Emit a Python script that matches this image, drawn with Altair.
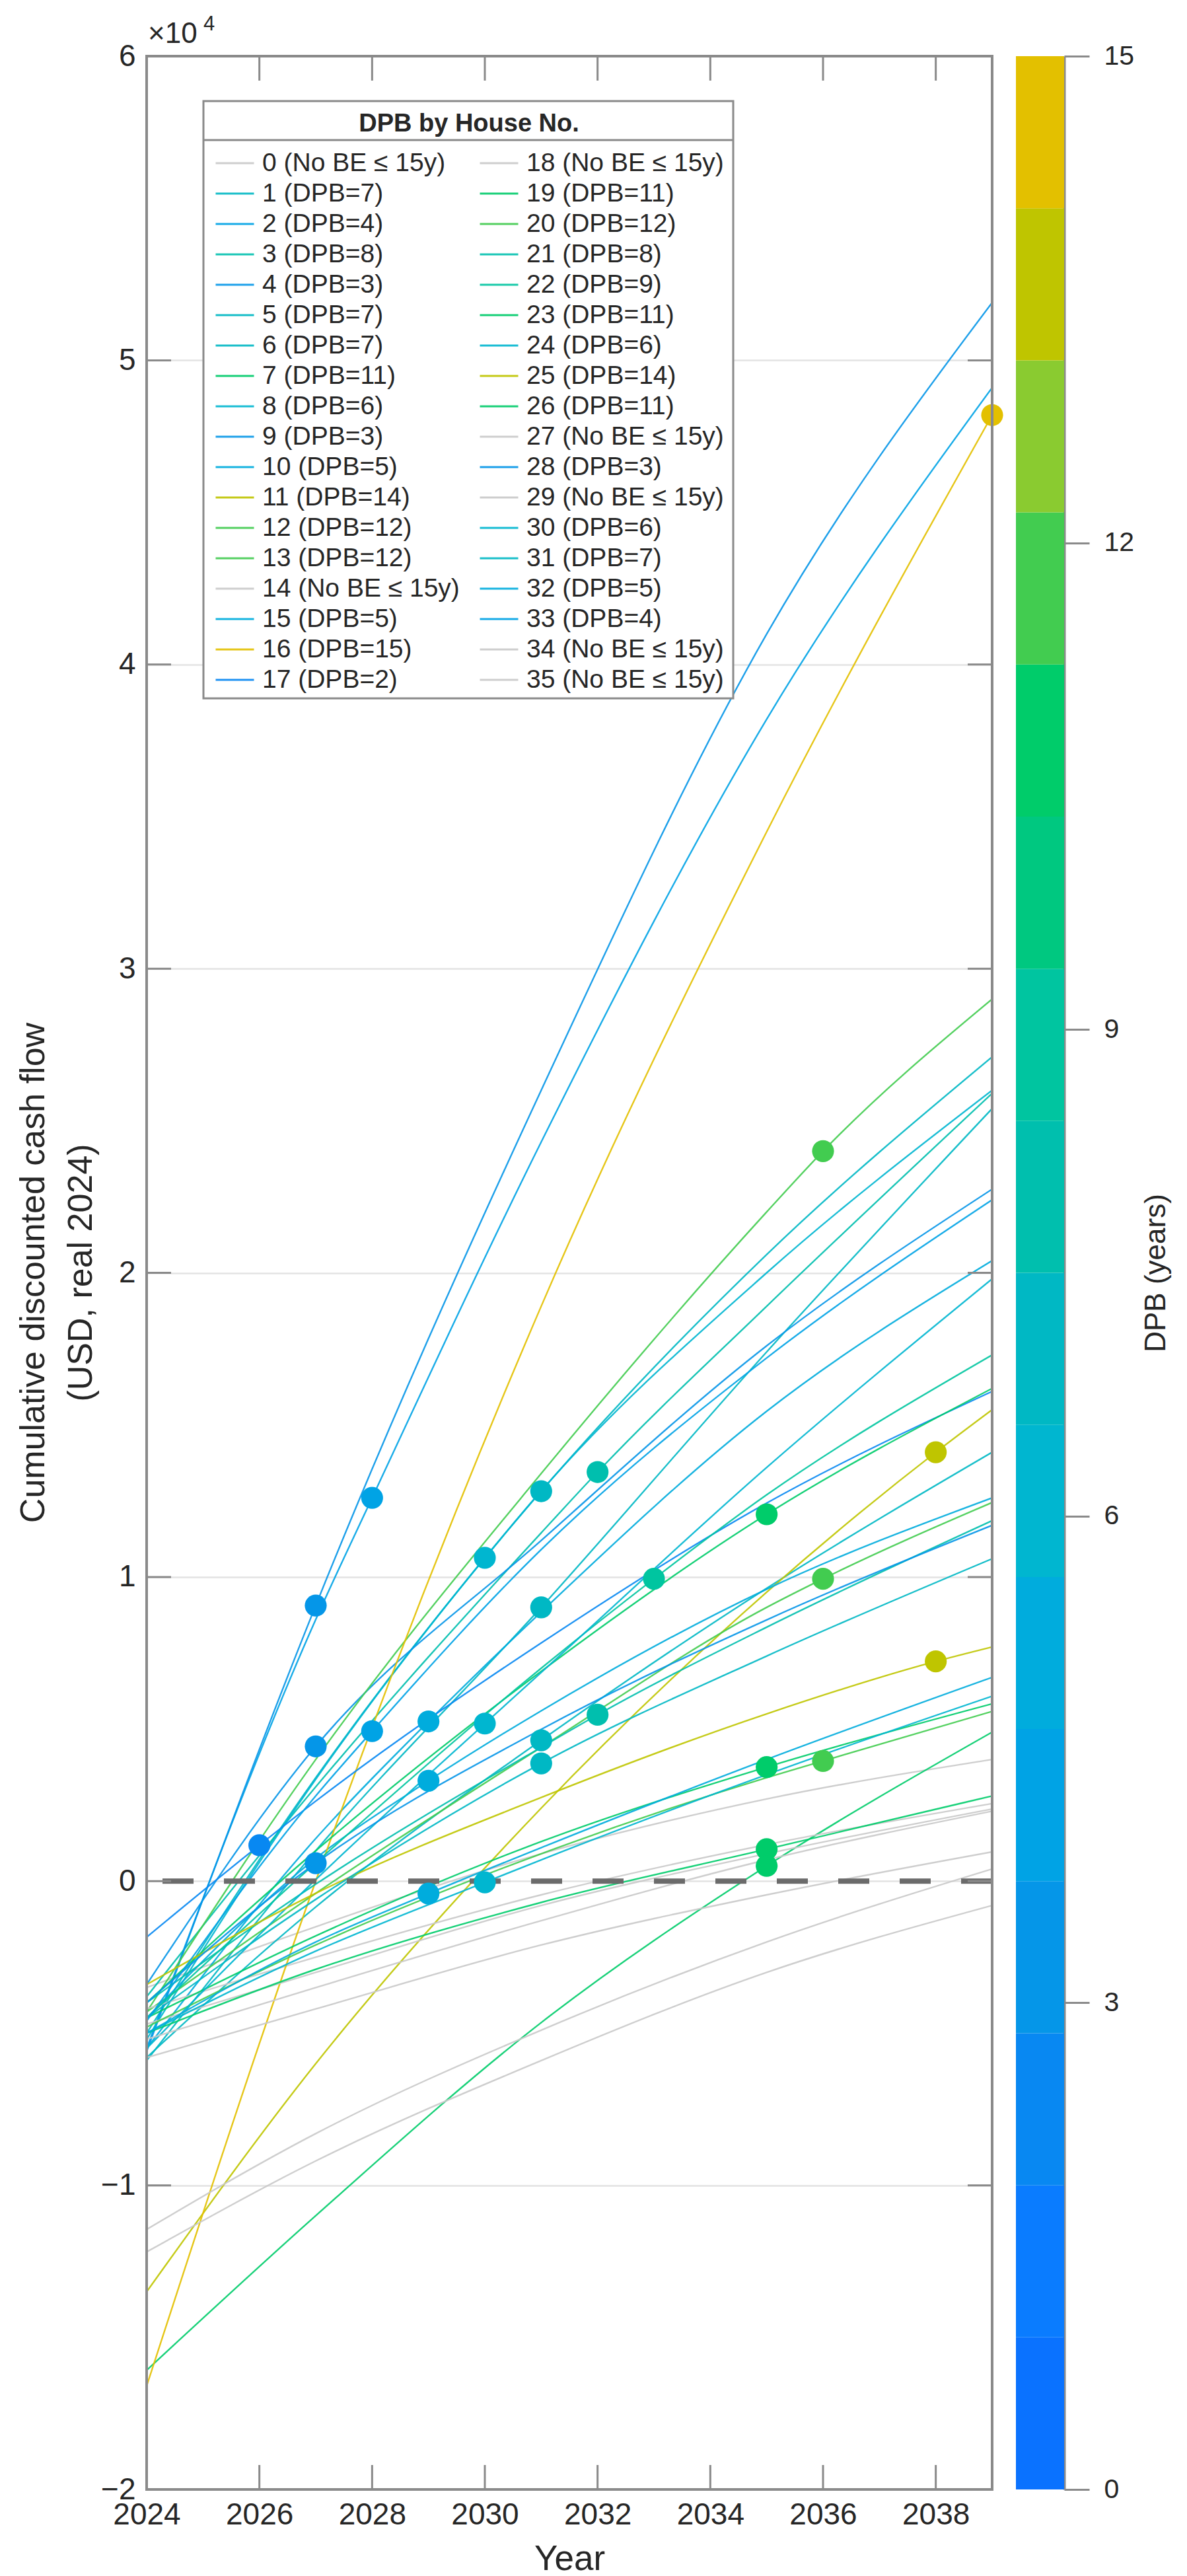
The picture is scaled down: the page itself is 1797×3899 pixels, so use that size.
import altair as alt
import pandas as pd

# ---------------- data ----------------
HOUSES = list(range(36))
DPB = [None, 7, 4, 8, 3, 7, 7, 11, 6, 3, 5, 14, 12, 12, None, 5, 15, 2,
       None, 11, 12, 8, 9, 11, 6, 14, 11, None, 3, None, 6, 7, 5, 4, None, None]

YEARS = [2024, 2027, 2031, 2035, 2039]
V2024 = [-3500, -5000, -5500, -3800, -5600, -5900, -5800, -16080, -5200, -3400,
         -5500, -13500, -4300, -4300, -4200, -4500, -16600, -1840, -4700, -4000,
         -4800, -4000, -4500, -4500, -5500, -3400, -5000, -5800, -4000, -11450,
         -5000, -4500, -5000, -4600, -12190, -5200]
V2027 = [-1500, 3400, 8600, 3100, 9060, 1000, -850, -11000, 3350, 4430,
         1400, -6000, 4000, -400, -2500, 750, 0, 2630, -3000, 1000,
         -2100, -100, 600, -1800, 50, -400, -2900, -4200, 590, -8300,
         -2300, -600, -2000, 2800, -9200, -3500]
V2031 = [900, 12820, 24300, 11450, 26000, 9000, 4630, -4650, 12830, 11200,
         8850, 2400, 13400, 4400, -450, 5600, 18900, 7830, -800, 6900,
         900, 4400, 7000, 1300, 6860, 2750, -700, -2100, 4990, -4900,
         700, 3870, 1100, 10900, -5900, -1300]
V2035 = [2700, 20600, 38200, 18900, 41000, 17400, 9630, 500, 20000, 17600,
         15450, 9500, 22000, 9000, 1200, 9600, 34500, 12430, 900, 12060,
         3400, 8350, 12700, 3750, 13600, 5500, 1050, -450, 8590, -2000,
         3500, 7400, 4000, 17200, -3000, 700]
V2039 = [4000, 27100, 49100, 25900, 51900, 25400, 14100, 4900, 26000, 22750,
         20400, 15500, 29000, 12450, 2550, 12600, 48200, 16100, 2370, 16200,
         5580, 11850, 17300, 5830, 19800, 7700, 2800, 960, 11700, 400,
         6080, 10600, 6700, 22400, -800, 2300]
# value of each house's curve at its payback year (dot), None = no break-even
DOT_VALUE = [None, 12820, 12600, 13450, 9060, 9000, 4630, 500, 10630, 4430,
             5250, 14100, 24000, 9940, None, 3300, 48200, 1180, None, 12060,
             3950, 5470, 9940, 3750, 5180, 7225, 1050, None, 590, None,
             -40, 3870, -410, 4930, None, None]

# 16-step colormap of the colorbar (bottom -> top), limits 0..15
BAND_COLORS = ["#0a72ff", "#0a7cff", "#0888f2", "#0596e8", "#00a3e5", "#00acdd",
               "#00b6d0", "#00b8c4", "#00bfae", "#00c5a0", "#00c880", "#00cc6a",
               "#42cc50", "#8acb30", "#bfc500", "#e3c000"]
NO_BE_COLOR = "#c9c9c9"
CB_MIN, CB_MAX = 0, 15

X_TICKS = [2024, 2026, 2028, 2030, 2032, 2034, 2036, 2038]
Y_TICKS = [-20000, -10000, 0, 10000, 20000, 30000, 40000, 50000, 60000]
CB_TICKS = [0, 3, 6, 9, 12, 15]
Y_TITLE = ["Cumulative discounted cash flow", "(USD, real 2024)"]

# ---------------- helpers ----------------
FONT = "Liberation Sans"
W, H = 1280, 3683
CB_W = 73
TICK_LEN = 37
FRAME = "#8a8a8a"
TXT = "#262626"


def dpb_color(d):
    if d is None:
        return NO_BE_COLOR
    n = len(BAND_COLORS)
    k = int((d - CB_MIN) / (CB_MAX - CB_MIN) * n)
    return BAND_COLORS[min(max(k, 0), n - 1)]


def label(h):
    d = DPB[h]
    return f"{h} (No BE \u2264 15y)" if d is None else f"{h} (DPB={d})"


labels = [label(h) for h in HOUSES]
colors = [dpb_color(DPB[h]) for h in HOUSES]

rows = []
series = [V2024, V2027, V2031, V2035, V2039]
for h in HOUSES:
    pts = {y: arr[h] for y, arr in zip(YEARS, series)}
    if DPB[h] is not None:
        pts.setdefault(2024 + DPB[h], DOT_VALUE[h])
    for y in sorted(pts):
        rows.append({"house": labels[h], "year": y, "value": pts[y]})
lines_df = pd.DataFrame(rows)

dots_df = pd.DataFrame([
    {"house": labels[h], "year": 2024 + DPB[h], "value": DOT_VALUE[h], "c": colors[h]}
    for h in HOUSES if DPB[h] is not None
])

xscale = alt.Scale(domain=[2024, 2039], nice=False, zero=False)
yscale = alt.Scale(domain=[-20000, 60000], nice=False, zero=False)

x_axis = alt.Axis(values=X_TICKS, format="d", grid=False, domain=False, ticks=False,
                  labelFlush=False, labelOverlap=False,
                  labelFontSize=46, labelPadding=16, labelColor=TXT,
                  title="Year", titleFontSize=53, titleFontWeight="normal",
                  titleColor=TXT, titlePadding=18)
y_axis = alt.Axis(values=Y_TICKS, labelExpr="format(datum.value / 10000, 'd')",
                  grid=True, gridColor="#e3e3e3", gridWidth=2.5, domain=False, ticks=False,
                  labelFlush=False, labelOverlap=False,
                  labelFontSize=46, labelPadding=17, labelColor=TXT, title=None)

legend = alt.Legend(title="DPB by House No.", orient="none", legendX=103, legendY=84,
                    columns=2, symbolLimit=100, symbolType="stroke", symbolSize=3364,
                    symbolStrokeWidth=3,
                    labelFontSize=39, labelColor=TXT, labelLimit=600, labelOffset=11,
                    titleFontSize=38, titleFontWeight="bold", titleColor=TXT,
                    titleAnchor="middle", titleLimit=900, titlePadding=20,
                    columnPadding=29, rowPadding=6, clipHeight=40, padding=0)

lines = alt.Chart(lines_df).mark_line(interpolate="monotone", strokeWidth=2.4,
                                      opacity=0.9, clip=True).encode(
    x=alt.X("year:Q", scale=xscale, axis=x_axis),
    y=alt.Y("value:Q", scale=yscale, axis=y_axis),
    color=alt.Color("house:N", scale=alt.Scale(domain=labels, range=colors),
                    sort=labels, legend=legend),
    detail="house:N",
)

zero_line = alt.Chart(alt.Data(values=[{"z": 0}])).mark_rule(
    color="#6b6b6b", strokeWidth=8, strokeDash=[47, 46]).encode(
    y=alt.Y("z:Q", scale=yscale))

dots = alt.Chart(dots_df).mark_circle(size=1100, opacity=1).encode(
    x=alt.X("year:Q", scale=xscale),
    y=alt.Y("value:Q", scale=yscale),
    color=alt.Color("c:N", scale=None),
)

xt = pd.DataFrame({"t": X_TICKS[1:]})
yt = pd.DataFrame({"t": Y_TICKS[1:-1]})
tick_style = dict(color=FRAME, strokeWidth=3)
ticks_bottom = alt.Chart(xt).mark_rule(**tick_style).encode(
    x=alt.X("t:Q", scale=xscale), y=alt.value(H), y2=alt.value(H - TICK_LEN))
ticks_top = alt.Chart(xt).mark_rule(**tick_style).encode(
    x=alt.X("t:Q", scale=xscale), y=alt.value(0), y2=alt.value(TICK_LEN))
ticks_left = alt.Chart(yt).mark_rule(**tick_style).encode(
    y=alt.Y("t:Q", scale=yscale), x=alt.value(0), x2=alt.value(TICK_LEN))
ticks_right = alt.Chart(yt).mark_rule(**tick_style).encode(
    y=alt.Y("t:Q", scale=yscale), x=alt.value(W - TICK_LEN), x2=alt.value(W))

one = alt.Data(values=[{"k": 1}])
frame = alt.Chart(one).mark_rect(fill="transparent", stroke=FRAME, strokeWidth=4).encode(
    x=alt.value(0), x2=alt.value(W), y=alt.value(0), y2=alt.value(H))
legend_box = alt.Chart(one).mark_rect(fill="white", stroke=FRAME, strokeWidth=3).encode(
    x=alt.value(86), x2=alt.value(888), y=alt.value(68), y2=alt.value(972))
legend_sep = alt.Chart(one).mark_rule(color=FRAME, strokeWidth=3).encode(
    x=alt.value(86), x2=alt.value(888), y=alt.value(127))
exp_base = alt.Chart(one).mark_text(text="\u00d710", fontSize=44, align="left",
                                    baseline="alphabetic", color=TXT).encode(
    x=alt.value(2), y=alt.value(-20))
exp_pow = alt.Chart(one).mark_text(text="4", fontSize=31, align="left",
                                   baseline="alphabetic", color=TXT).encode(
    x=alt.value(86), y=alt.value(-39))
ytitle_1 = alt.Chart(one).mark_text(text=Y_TITLE[0], fontSize=52, angle=270,
                                    align="center", baseline="middle", color=TXT).encode(
    x=alt.value(-171), y=alt.value(H / 2))
ytitle_2 = alt.Chart(one).mark_text(text=Y_TITLE[1], fontSize=52, angle=270,
                                    align="center", baseline="middle", color=TXT).encode(
    x=alt.value(-99), y=alt.value(H / 2))

main = alt.layer(lines, zero_line, dots, ticks_bottom, ticks_top, ticks_left,
                 ticks_right, frame, legend_box, legend_sep, exp_base, exp_pow,
                 ytitle_1, ytitle_2).properties(width=W, height=H)

bands = pd.DataFrame({
    "lo": [CB_MIN + i * (CB_MAX - CB_MIN) / len(BAND_COLORS) for i in range(len(BAND_COLORS))],
    "hi": [CB_MIN + (i + 1) * (CB_MAX - CB_MIN) / len(BAND_COLORS) for i in range(len(BAND_COLORS))],
    "c": BAND_COLORS,
})
colorbar = alt.Chart(bands).mark_rect().encode(
    y=alt.Y("lo:Q", scale=alt.Scale(domain=[CB_MIN, CB_MAX], nice=False, zero=False),
            axis=alt.Axis(orient="right", values=CB_TICKS, grid=False,
                          domain=True, domainColor=FRAME, domainWidth=4,
                          ticks=True, tickSize=38, tickColor=FRAME, tickWidth=3,
                          labelFlush=False,
                          labelFontSize=41, labelPadding=22, labelColor=TXT,
                          title="DPB (years)", titleFontSize=44, titleFontWeight="normal",
                          titleColor=TXT, titlePadding=56, titleAngle=270)),
    y2="hi:Q",
    x=alt.value(0), x2=alt.value(CB_W),
    color=alt.Color("c:N", scale=None),
).properties(width=CB_W, height=H)

chart = alt.hconcat(main, colorbar, spacing=36, bounds="flush").properties(
    padding={"left": 17, "top": 13, "right": 5, "bottom": 5}
).configure(font=FONT).configure_view(stroke=None)

chart.save("out.html", embed_options={"renderer": "svg", "actions": False})
